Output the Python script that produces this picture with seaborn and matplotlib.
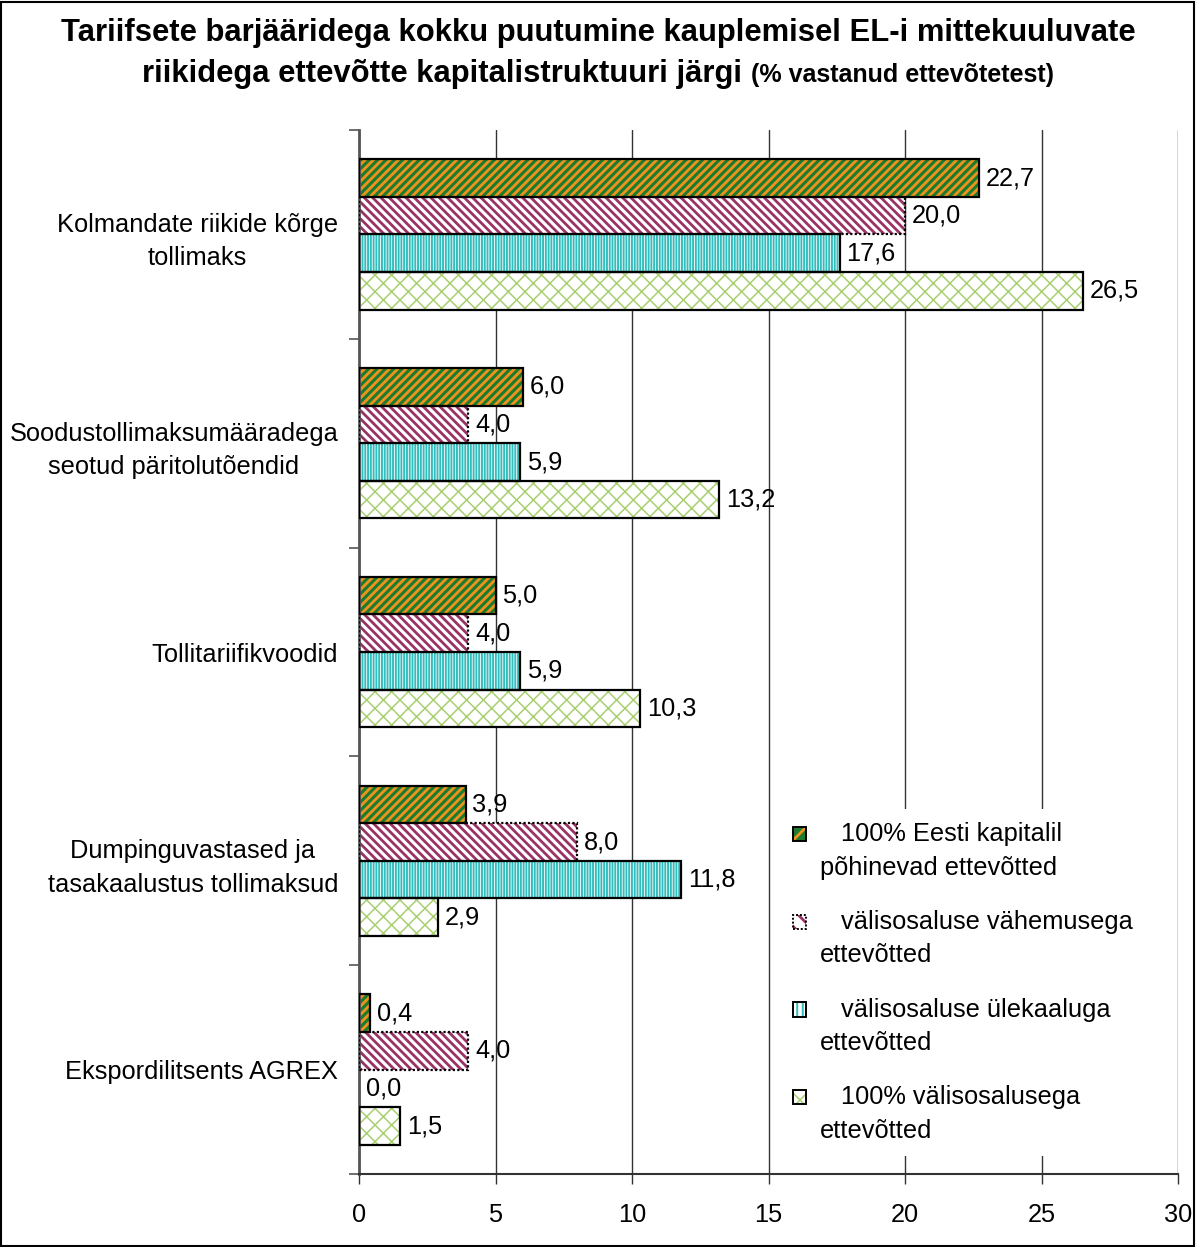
import matplotlib
matplotlib.use("Agg")
import matplotlib.pyplot as plt
from matplotlib.patches import Rectangle, Patch
import numpy as np
import pandas as pd
import seaborn as sns

# Data: share of responding companies (%) by capital structure
categories = [
    "Kolmandate riikide kõrge\ntollimaks",
    "Soodustollimaksumääradega\nseotud päritolutõendid",
    "Tollitariifikvoodid",
    "Dumpinguvastased ja\ntasakaalustus tollimaksud",
    "Ekspordilitsents AGREX",
]
groups = [
    "100% Eesti kapitalil\npõhinevad ettevõtted",
    "välisosaluse vähemusega\nettevõtted",
    "välisosaluse ülekaaluga\nettevõtted",
    "100% välisosalusega\nettevõtted",
]
eesti_100 = [22.7, 6.0, 5.0, 3.9, 0.4]
valis_vahemus = [20.0, 4.0, 4.0, 8.0, 4.0]
valis_ulekaal = [17.6, 5.9, 5.9, 11.8, 0.0]
valis_100 = [26.5, 13.2, 10.3, 2.9, 1.5]
x_ticks = [0, 5, 10, 15, 20, 25, 30]

series = [eesti_100, valis_vahemus, valis_ulekaal, valis_100]
df = pd.DataFrame(
    [(c, g, v) for g, vals in zip(groups, series) for c, v in zip(categories, vals)],
    columns=["kategooria", "grupp", "väärtus"],
)

# Fill style per group: face colour, hatch pattern, hatch colour/width, outline style
styles = [
    dict(face="#1E7B2E", hatch="////", hcolor="#F0921E", hlw=2.0, ls="-"),
    dict(face="white", hatch="\\\\\\\\", hcolor="#993366", hlw=2.0, ls=(0, (1, 1))),
    dict(face="white", hatch="||||||", hcolor="#33BDBD", hlw=1.4, ls="-"),
    dict(face="white", hatch="xx", hcolor="#A8D070", hlw=1.1, ls="-"),
]

sns.set_theme(style="white")
plt.rcParams["font.family"] = ["Liberation Sans", "DejaVu Sans"]
plt.rcParams["text.color"] = "black"
plt.rcParams["xtick.color"] = "black"
plt.rcParams["ytick.color"] = "black"
plt.rcParams["hatch.linewidth"] = 2.0

FS = 18.3


def set_hatch_width(patch, lw):
    if hasattr(patch, "set_hatch_linewidth"):
        patch.set_hatch_linewidth(lw)
    else:
        patch._hatch_linewidth = lw


fig = plt.figure(figsize=(11.96, 12.47), dpi=100)
ax = fig.add_axes([0.3002, 0.0585, 0.6848, 0.8372])

palette = {g: s["face"] for g, s in zip(groups, styles)}
sns.barplot(data=df, y="kategooria", x="väärtus", hue="grupp", order=categories,
            hue_order=groups, palette=palette, orient="h", width=0.72,
            saturation=1, legend=False, ax=ax, errorbar=None)

# Apply hatches and outlines group by group
bar_patches = [p for p in ax.patches if isinstance(p, Rectangle)]
n = len(categories)
for gi, st in enumerate(styles):
    for ci in range(n):
        p = bar_patches[gi * n + ci]
        p.set_facecolor(st["face"])
        p.set_hatch(st["hatch"])
        p.set_edgecolor(st["hcolor"])
        p.set_linewidth(0)
        set_hatch_width(p, st["hlw"])
        x0, y0 = p.get_xy()
        w, h = p.get_width(), p.get_height()
        if w > 0:
            ax.add_patch(Rectangle((x0, y0), w, h, fill=False, edgecolor="black",
                                   linewidth=1.6, linestyle=st["ls"], zorder=3))
        val = series[gi][ci]
        ax.text(w + 0.25, y0 + h / 2, f"{val:.1f}".replace(".", ","),
                va="center", ha="left", fontsize=FS, color="black", zorder=4)

ax.set_xlim(0, 30)
ax.set_ylim(n - 0.5, -0.5)
ax.set_xticks(x_ticks)
ax.set_xticklabels([str(t) for t in x_ticks], fontsize=FS)
ax.xaxis.grid(True, color="#333333", linewidth=1.0)
ax.set_axisbelow(True)

# Category labels at group centres, tick marks at group boundaries
ax.set_yticks(np.arange(-0.5, n, 1.0))
ax.set_yticklabels([])
ax.set_yticks(np.arange(n), minor=True)
ax.set_yticklabels(categories, minor=True, fontsize=FS, multialignment="center",
                   linespacing=1.5)
ax.tick_params(axis="y", which="minor", length=0, pad=15)
ax.tick_params(axis="y", which="major", length=7, width=1.2, color="#555555",
               direction="out", left=True)
ax.tick_params(axis="x", length=7, width=1.0, color="#333333", direction="out",
               bottom=True, pad=14)
ax.set_xlabel("")
ax.set_ylabel("")

for side in ("top", "right"):
    ax.spines[side].set_visible(False)
ax.spines["left"].set_color("#555555")
ax.spines["left"].set_linewidth(2)
ax.spines["bottom"].set_color("#333333")
ax.spines["bottom"].set_linewidth(1.5)


class SwatchHandler:
    """Small hatched square with outline, aligned with the first label line."""

    def __init__(self, st):
        self.st = st

    def legend_artist(self, legend, orig_handle, fontsize, handlebox):
        st = self.st
        x0, y0 = -handlebox.xdescent, -handlebox.ydescent
        w, h = handlebox.width, handlebox.height
        dy = 0.68 * fontsize
        fill = Rectangle((x0, y0 + dy), w, h, facecolor=st["face"],
                         hatch=st["hatch"][: max(1, len(st["hatch"]) // 2)],
                         edgecolor=st["hcolor"], linewidth=0,
                         transform=handlebox.get_transform())
        set_hatch_width(fill, st["hlw"])
        edge = Rectangle((x0, y0 + dy), w, h, fill=False, edgecolor="black",
                         linewidth=1.4, linestyle=st["ls"],
                         transform=handlebox.get_transform())
        handlebox.add_artist(fill)
        handlebox.add_artist(edge)
        return fill


handles = [Patch(label=g) for g in groups]
leg = ax.legend(handles, ["   " + g for g in groups],
                handler_map={h: SwatchHandler(st) for h, st in zip(handles, styles)},
                loc="upper left", bbox_to_anchor=(0.499, 0.3615), frameon=True,
                fontsize=FS, handlelength=0.5, handleheight=0.5, handletextpad=0.55,
                labelspacing=1.19, borderpad=0.5, facecolor="white", edgecolor="none",
                framealpha=1)
leg.set_zorder(5)
for t in leg.get_texts():
    t.set_multialignment("left")
    t.set_linespacing(1.5)

# Title: two lines, second line ends in a smaller note
fig.text(0.5, 1 - 33 / 1247, "Tariifsete barjääridega kokku puutumine kauplemisel EL-i mittekuuluvate",
         ha="center", va="center", fontsize=22.3, fontweight="bold")
t1 = fig.text(0.5, 0.942, "riikidega ettevõtte kapitalistruktuuri järgi ",
              ha="left", va="baseline", fontsize=22.3, fontweight="bold")
t2 = fig.text(0.5, 0.942, "(% vastanud ettevõtetest)", ha="left", va="baseline",
              fontsize=18, fontweight="bold")
fig.canvas.draw()
r = fig.canvas.get_renderer()
w1 = t1.get_window_extent(r).width
w2 = t2.get_window_extent(r).width
W = fig.bbox.width
start = (W - (w1 + w2)) / 2
t1.set_x(start / W)
t2.set_x((start + w1) / W)
for v in (t1, t2):
    v.set_y(1 - 82 / 1247)

# Outer border of the figure
fig.patches.append(Rectangle((0.001, 0.001), 0.997, 0.997, transform=fig.transFigure,
                             fill=False, edgecolor="black", linewidth=1.5))

fig.savefig("out.png", dpi=100, facecolor="white")
